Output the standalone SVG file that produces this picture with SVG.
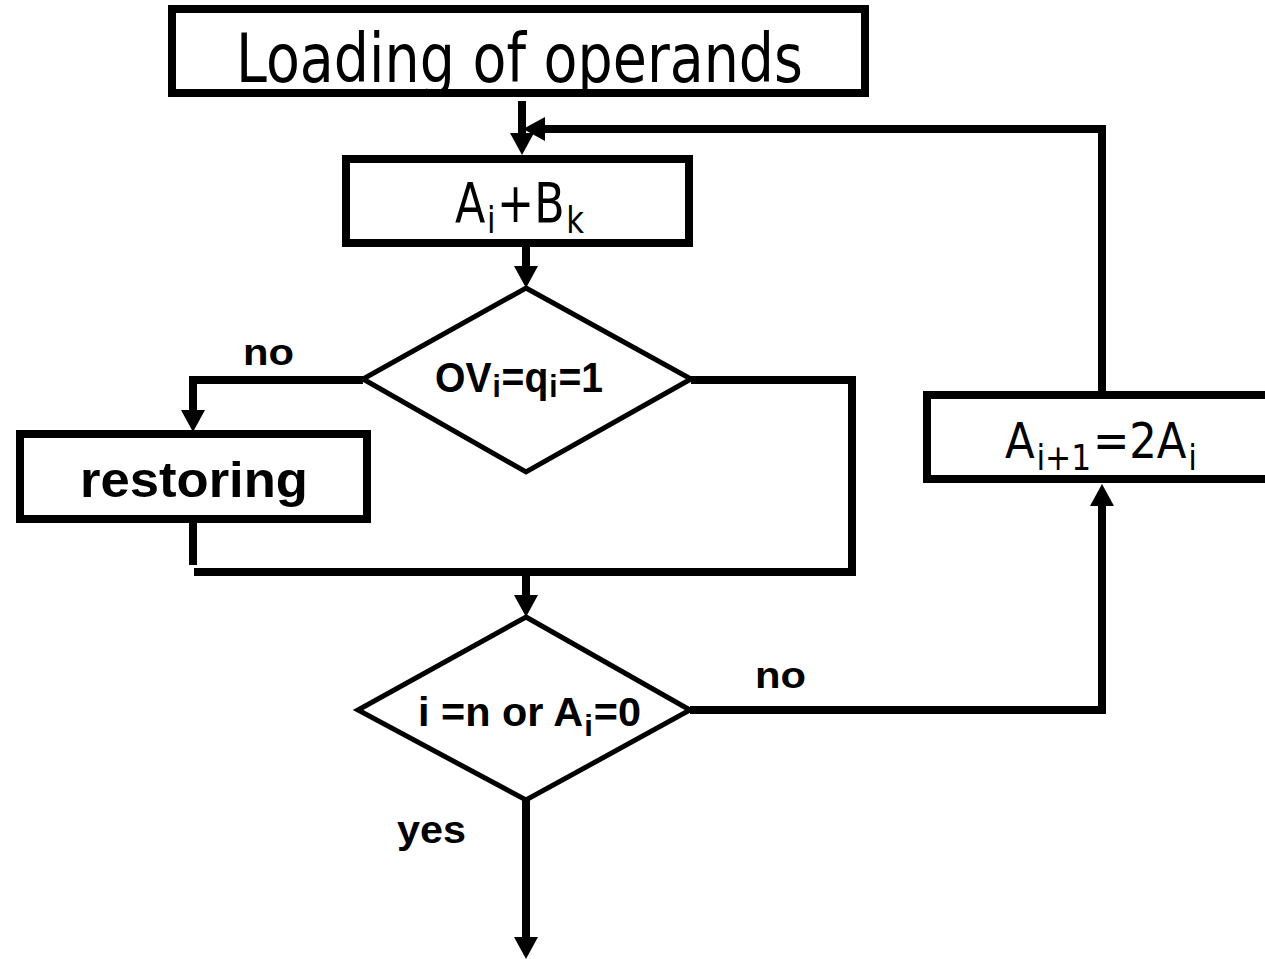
<svg xmlns="http://www.w3.org/2000/svg" width="1265" height="959" viewBox="0 0 1265 959">
<style>
.box{fill:#fff;stroke:#000;stroke-width:8}
.dia{fill:#fff;stroke:#000;stroke-width:5}
.con{fill:none;stroke:#000;stroke-width:8}
.t1{font-family:"DejaVu Sans",Verdana,sans-serif;fill:#000}
.t2{font-family:"Liberation Sans",Arial,sans-serif;font-weight:bold;fill:#000}
</style>
<defs>
<marker id="ah" viewBox="0 0 22 24" refX="0" refY="12" markerWidth="22" markerHeight="24" markerUnits="userSpaceOnUse" orient="auto">
<path d="M0,0 L22,12 L0,24 z" fill="#000"/>
</marker>
</defs>
<rect width="1265" height="959" fill="#fff"/>
<g id="connectors">
<path class="con" d="M522 101 V133" marker-end="url(#ah)"/>
<path class="con" d="M1102 395 V129 H545" marker-end="url(#ah)"/>
<path class="con" d="M526 247 V266" marker-end="url(#ah)"/>
<path class="con" d="M363 380 H193 V410" marker-end="url(#ah)"/>
<path class="con" d="M193 519 V565"/>
<path class="con" d="M691 380 H852 V572 H194"/>
<path class="con" d="M526 572 V595" marker-end="url(#ah)"/>
<path class="con" d="M690 710 H1102 V506" marker-end="url(#ah)"/>
<path class="con" d="M526 800 V937" marker-end="url(#ah)"/>
</g>
<g id="load">
<rect class="box" x="172" y="9" width="693" height="84"/>
<text class="t1" x="236" y="82" font-size="68" textLength="567" lengthAdjust="spacingAndGlyphs">Loading of operands</text>
</g>
<g id="add">
<rect class="box" x="346" y="159" width="343" height="84"/>
<text class="t1" x="455" y="222" font-size="55" textLength="129" lengthAdjust="spacingAndGlyphs">A<tspan font-size="38" dx="2" dy="11">i</tspan><tspan dx="2" dy="-11">+B</tspan><tspan font-size="38" dx="2" dy="11">k</tspan></text>
</g>
<g id="check1">
<polygon class="dia" points="526,288 691,379 526,472 363,379"/>
<text class="t2" x="435" y="392" font-size="42" textLength="168" lengthAdjust="spacingAndGlyphs">OV<tspan font-size="32" dx="1" dy="5">i</tspan><tspan dx="1" dy="-5">=q</tspan><tspan font-size="32" dx="1" dy="5">i</tspan><tspan dx="1" dy="-5">=1</tspan></text>
</g>
<g id="restoring">
<rect class="box" x="20" y="434" width="347" height="85"/>
<text class="t2" x="80" y="497" font-size="50" textLength="228" lengthAdjust="spacingAndGlyphs">restoring</text>
</g>
<g id="check2">
<polygon class="dia" points="526,617 690,710 526,800 358,710"/>
<text class="t2" x="418" y="726" font-size="40" textLength="223" lengthAdjust="spacingAndGlyphs">i =n or A<tspan font-size="30" dx="1" dy="10">i</tspan><tspan dx="1" dy="-10">=0</tspan></text>
</g>
<g id="shift">
<rect class="box" x="927" y="395" width="400" height="84"/>
<text class="t1" x="1005" y="458" font-size="50" textLength="192" lengthAdjust="spacingAndGlyphs">A<tspan font-size="36" dx="2" dy="12">i+1</tspan><tspan dx="2" dy="-12">=2A</tspan><tspan font-size="36" dx="2" dy="12">i</tspan></text>
</g>
<g id="labels">
<text class="t2" x="243" y="365" font-size="36" textLength="51" lengthAdjust="spacingAndGlyphs">no</text>
<text class="t2" x="755" y="688" font-size="36" textLength="51" lengthAdjust="spacingAndGlyphs">no</text>
<text class="t2" x="397" y="843" font-size="38" textLength="69" lengthAdjust="spacingAndGlyphs">yes</text>
</g>
</svg>
